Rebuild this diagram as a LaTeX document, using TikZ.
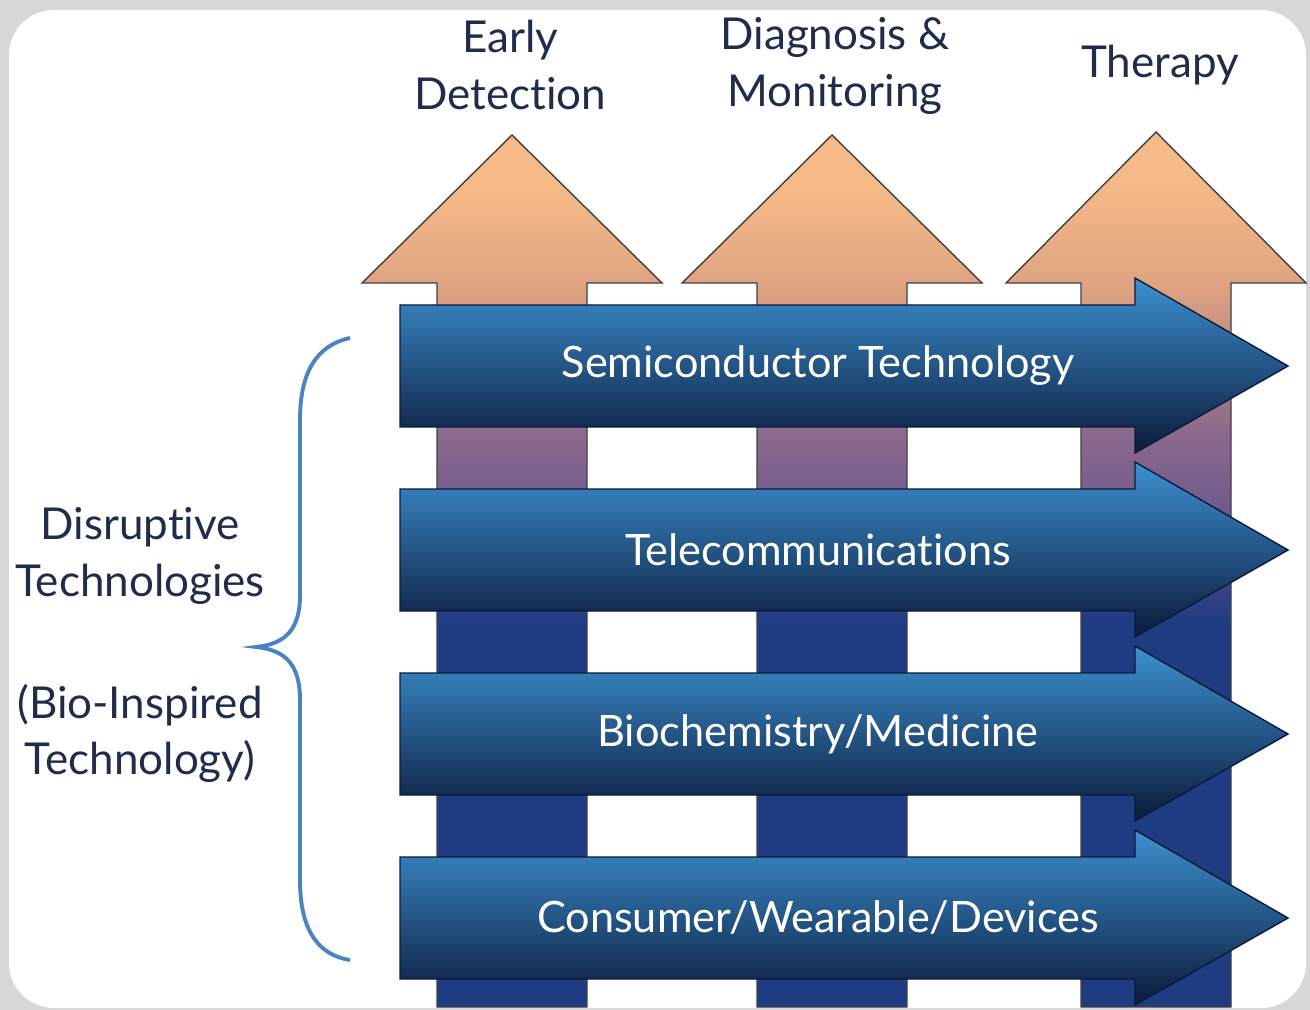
\documentclass[tikz,border=0pt]{standalone}
\usepackage{fontspec}
\setmainfont{Lato}[Ligatures=NoCommon]
\usetikzlibrary{positioning}

\definecolor{framegray}{HTML}{D6D7D9}
\definecolor{labelnavy}{HTML}{1F2C4C}
\definecolor{bracecol}{HTML}{4A82C4}
\definecolor{headpeach}{HTML}{F6BA88}
\definecolor{headtan}{HTML}{DEA282}
\definecolor{shaftmauve}{HTML}{8C6A8C}
\definecolor{shaftpurple}{HTML}{735C8E}
\definecolor{shaftnavy}{HTML}{1F3B82}
\definecolor{bandtop}{HTML}{3C90D0}
\definecolor{bandbot}{HTML}{0B1A3A}

\pgfdeclareverticalshading{upshade}{100bp}{color(0bp)=(shaftnavy); color(47bp)=(shaftnavy);
  color(54bp)=(shaftpurple); color(58bp)=(shaftmauve); color(66bp)=(headtan);
  color(72bp)=(headpeach); color(100bp)=(headpeach)}

\begin{document}
\begin{tikzpicture}[x=0.01cm, y=-0.01cm, node distance=0.5cm,
    toptext/.style={font=\fontsize{12.5}{16}\selectfont, text=labelnavy, align=center},
    bandtext/.style={font=\fontsize{12.3}{16}\selectfont, text=white},
    uparrow/.style={shading=upshade, draw=black!75, line width=0.4pt},
    techband/.style={top color=bandtop, bottom color=bandbot, draw=bandbot, line width=0.4pt}]
    % Frame
    \fill[framegray] (0,0) rectangle (1310,1010);
    \fill[white, rounded corners=0.45cm] (9,10) rectangle (1306,1008);

    % Application arrows
    \foreach \cx/\ty in {512/135, 832/135, 1156/132} {
        \draw[uparrow] (\cx-75,1007) -- (\cx-75,283) -- (\cx-150,283) -- (\cx,\ty)
            -- (\cx+150,283) -- (\cx+75,283) -- (\cx+75,1007) -- cycle;
    }

    % Technology arrows
    \foreach \cy/\txt [count=\i] in {366/{Semiconductor Technology}, 550/{Telecommunications},
            734/{Biochemistry/Medicine}, 918/{Consumer/Wearable/Devices}} {
        \draw[techband] (400,\cy-61) -- (1135,\cy-61) -- (1135,\cy-88) -- (1288,\cy)
            -- (1135,\cy+87) -- (1135,\cy+61) -- (400,\cy+61) -- cycle;
        \node[bandtext] (tech\i) at (818,\cy) {\txt};
    }

    % Applications
    \node[toptext] (early) at (510,65) {Early\\Detection};
    \node[toptext] (diag) at (835,66) {Diagnosis \&\\Monitoring};
    \node[toptext] (therapy) at (1160,65) {Therapy};

    % Disruptive technologies
    \node[toptext] (disrupt) at (140,556) {Disruptive\\Technologies};
    \node[toptext, below=0.55cm of disrupt] (bio) {(Bio-Inspired\\Technology)};
    \draw[bracecol, line width=1.1pt] (350,338) .. controls (318,345) and (300,370) .. (300,420)
        -- (300,595) .. controls (300,630) and (285,644) .. (256,647)
        .. controls (285,650) and (300,664) .. (300,700) -- (300,880)
        .. controls (300,930) and (318,955) .. (350,960);
\end{tikzpicture}
\end{document}
